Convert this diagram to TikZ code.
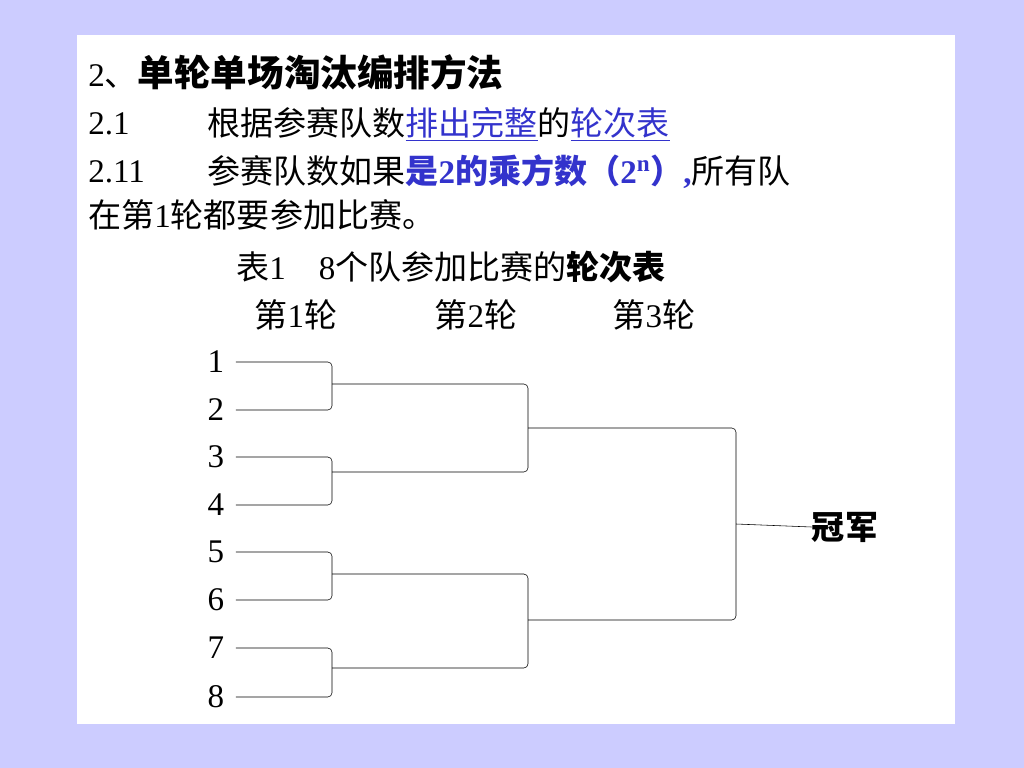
\documentclass[tikz,border=0pt]{standalone}
\usepackage{fontspec}
\setmainfont{Liberation Serif}
\newfontfamily\cjk{Noto Sans CJK SC}
\usetikzlibrary{positioning}
\definecolor{bgblue}{RGB}{204,204,255}
\definecolor{hiblue}{RGB}{51,51,204}
\newcommand{\hl}[1]{\textcolor{hiblue}{\underline{#1}}}
\begin{document}
\begin{tikzpicture}
[x=0.025cm, y=-0.025cm, line/.style={draw, thin, rounded corners=3pt},
 txt/.style={anchor=west, inner sep=0pt, font=\fontsize{23.5}{26}\selectfont},
 team/.style={inner sep=0pt, font=\fontsize{23.5}{26}\selectfont}]
\fill[bgblue] (0,0) rectangle (1024,768);
\fill[white] (77,35) rectangle (955,724);
\useasboundingbox (0,0) rectangle (1024,768);

% Heading lines:
\node[txt] (h1) at (88,72) {2{\cjk 、\fontsize{26}{28}\selectfont\bfseries 单轮单场淘汰编排方法}};
\node[txt] (h2) at (88,124) {2.1};
\node[txt] (h2t) at (207,124) {\cjk 根据参赛队数\hl{排出完整}的\hl{轮次表}};
\node[txt] (h3) at (88,172) {2.11};
\node[txt] (h3t) at (207,172) {{\cjk 参赛队数如果}\textcolor{hiblue}{\bfseries{\cjk 是}2{\cjk 的乘方数（}2\textsuperscript{n}{\cjk ）},}{\cjk 所有队}};
\node[txt] (h4) at (88,215) {{\cjk 在第}1{\cjk 轮都要参加比赛。}};
\node[txt] (cap) at (236,267) {{\cjk 表}1\quad 8{\cjk 个队参加比赛的\bfseries 轮次表}};
\node[team] (r1) at (296,315) {{\cjk 第}1{\cjk 轮}};
\node[team] (r2) at (476,315) {{\cjk 第}2{\cjk 轮}};
\node[team] (r3) at (654,315) {{\cjk 第}3{\cjk 轮}};

% Teams:
\foreach \i/\y in {1/362,2/410,3/457,4/505,5/552,6/600,7/648,8/697}
  \node[team] (t\i) at (216,\y) {\i};
\node[team, font=\fontsize{23.5}{26}\selectfont\cjk\bfseries] (champ) at (845,527) {冠军};

% Brackets:
\foreach \a/\b in {1/2,3/4,5/6,7/8}
  \draw[line] ([xshift=8pt]t\a.east) -| (332,0 |- t\b) -- ([xshift=8pt]t\b.east);
\coordinate (m1) at (332,384); \coordinate (m2) at (332,472);
\coordinate (m3) at (332,574); \coordinate (m4) at (332,668);
\draw[line] (m1) -- (528,384) -- (528,472) -- (m2);
\draw[line] (m3) -- (528,574) -- (528,668) -- (m4);
\draw[line] (528,428) -- (736,428) -- (736,620) -- (528,620);
\draw[line] (736,524) -- (champ.west);
\end{tikzpicture}
\end{document}
